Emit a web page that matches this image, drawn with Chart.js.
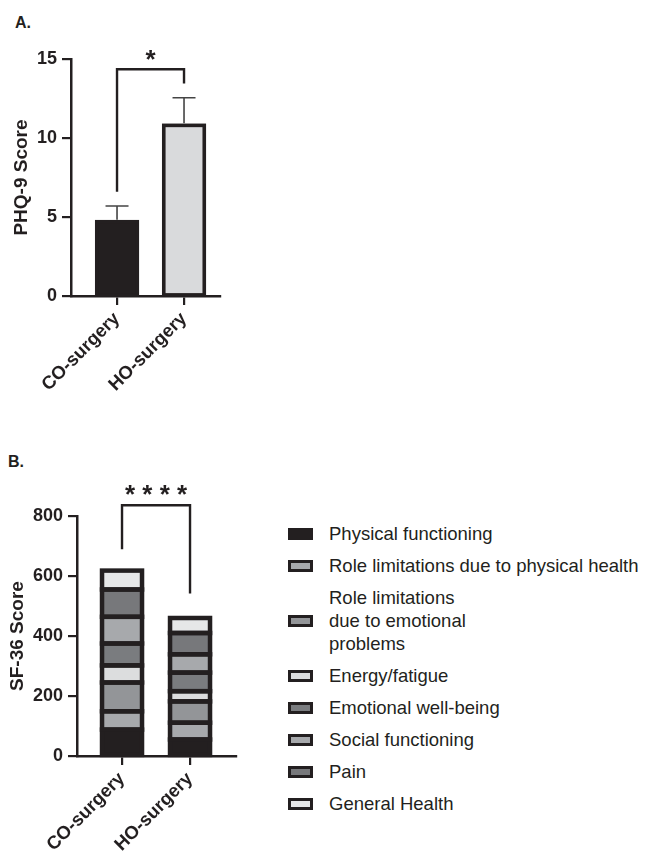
<!DOCTYPE html>
<html>
<head>
<meta charset="utf-8">
<script src="https://cdn.jsdelivr.net/npm/chart.js@4.4.1/dist/chart.umd.min.js"></script>
<style>
  html, body { margin: 0; padding: 0; background: #ffffff; }
  body { width: 651px; height: 851px; position: relative; overflow: hidden; font-family: "Liberation Sans", Arial, sans-serif; color: #231f20; }
  .panel-label { position: absolute; font-weight: bold; font-size: 16px; line-height: 1; }
  #wrapA { position: absolute; left: 0; top: 0; width: 240px; height: 420px; }
  #wrapB { position: absolute; left: 0; top: 440px; width: 250px; height: 411px; }
  #legendB { position: absolute; left: 288px; top: 522px; }
  .lg-row { display: flex; align-items: center; margin-bottom: 9px; }
  .lg-box { width: 25px; height: 12px; box-sizing: border-box; border: 3px solid #231f20; margin-right: 16px; flex: none; }
  .lg-text { font-size: 18.5px; line-height: 23px; white-space: pre-line; color: #231f20; }
</style>
</head>
<body>
<div class="panel-label" style="left:15px; top:15px;">A.</div>
<div class="panel-label" style="left:8px; top:454px;">B.</div>
<div id="wrapA"><canvas id="chartA" width="240" height="420"></canvas></div>
<div id="wrapB"><canvas id="chartB" width="250" height="411"></canvas></div>
<div id="legendB"></div>
<script>
// ---------- data ----------
const groups = ['CO-surgery', 'HO-surgery'];

// Panel A: PHQ-9
const phqMeans = [4.7, 10.8];
const phqErrors = [1.0, 1.75];
const phqColors = ['#231f20', '#d9dadc'];
const phqTicks = [0, 5, 10, 15];
const phqBracket = { from: 6.6, top: 14.35, to: 13.45, label: '*', labelAt: 15.4 };

// Panel B: SF-36 components (stacked)
const sfComponents = [
  'Physical functioning',
  'Role limitations due to physical health',
  'Role limitations\ndue to emotional\nproblems',
  'Energy/fatigue',
  'Emotional well-being',
  'Social functioning',
  'Pain',
  'General Health'
];
const sfCO = [88, 61, 96, 57, 73, 89, 91, 63];
const sfHO = [55, 56, 71, 34, 62, 61, 71, 50];
const sfColors = ['#231f20', '#a7a9ac', '#939598', '#dcddde', '#7a7c7f', '#a7a9ac', '#77787b', '#e6e7e8'];
const sfTicks = [0, 200, 400, 600, 800];
const sfBracket = { from: 689, top: 836, to: 542, label: '* * * *', labelAt: 892 };

// ---------- shared ----------
const INK = '#231f20';
const FONT = '"Liberation Sans", Arial, sans-serif';
const STAR_SIZE = 26;

function bracketPlugin(br) {
  return {
    id: 'bracket',
    afterDraw(chart) {
      const ctx = chart.ctx, x = chart.scales.x, y = chart.scales.y;
      const x0 = x.getPixelForValue(0), x1 = x.getPixelForValue(1);
      ctx.save();
      ctx.strokeStyle = INK;
      ctx.lineWidth = 2.4;
      ctx.lineCap = 'butt';
      ctx.lineJoin = 'miter';
      ctx.beginPath();
      ctx.moveTo(x0, y.getPixelForValue(br.from));
      ctx.lineTo(x0, y.getPixelForValue(br.top));
      ctx.lineTo(x1, y.getPixelForValue(br.top));
      ctx.lineTo(x1, y.getPixelForValue(br.to));
      ctx.stroke();
      ctx.fillStyle = INK;
      ctx.font = 'bold ' + STAR_SIZE + 'px ' + FONT;
      ctx.textAlign = 'center';
      ctx.textBaseline = 'alphabetic';
      ctx.fillText(br.label, (x0 + x1) / 2, y.getPixelForValue(br.labelAt) + 0.57 * STAR_SIZE);
      ctx.restore();
    }
  };
}

const errorBarPlugin = {
  id: 'errbars',
  afterDatasetsDraw(chart) {
    const ctx = chart.ctx, x = chart.scales.x, y = chart.scales.y;
    ctx.save();
    ctx.strokeStyle = '#444444';
    ctx.lineWidth = 1.6;
    phqMeans.forEach((m, i) => {
      const px = x.getPixelForValue(i);
      const yTop = y.getPixelForValue(m + phqErrors[i]);
      const yBar = y.getPixelForValue(m);
      ctx.beginPath();
      ctx.moveTo(px, yBar - 2);
      ctx.lineTo(px, yTop);
      ctx.moveTo(px - 11.5, yTop);
      ctx.lineTo(px + 11.5, yTop);
      ctx.stroke();
    });
    ctx.restore();
  }
};

// outlines each bar / stacked segment, centred on its edges (uses the bar elements laid out by Chart.js)
function outlinePlugin(lineWidth) {
  return {
    id: 'outline',
    afterDatasetsDraw(chart) {
      const ctx = chart.ctx;
      ctx.save();
      ctx.strokeStyle = INK;
      ctx.lineWidth = lineWidth;
      ctx.lineJoin = 'miter';
      chart.data.datasets.forEach((ds, di) => {
        chart.getDatasetMeta(di).data.forEach(el => {
          const p = el.getProps(['x', 'y', 'base', 'width'], true);
          ctx.strokeRect(p.x - p.width / 2, p.y, p.width, p.base - p.y);
        });
      });
      ctx.restore();
    }
  };
}

function xScale(min, max, height) {
  return {
    type: 'linear',
    min: min, max: max,
    offset: false,
    stacked: true,
    afterBuildTicks: (s) => { s.ticks = groups.map((_, i) => ({ value: i })); },
    afterFit: (s) => { s.height = height; },
    grid: { display: true, offset: false, drawOnChartArea: false, drawTicks: true, tickLength: 9, color: INK, lineWidth: 2.2 },
    border: { display: true, color: INK, width: 2.5 },
    ticks: {
      autoSkip: false,
      minRotation: 45, maxRotation: 45,
      padding: 3,
      color: INK,
      font: { family: FONT, size: 18.5, weight: 'bold' },
      callback: (v) => groups[v]
    }
  };
}

function yScale(max, step, ticks, width, title, titlePad) {
  return {
    min: 0, max: max,
    stacked: true,
    afterBuildTicks: (s) => { s.ticks = ticks.map(v => ({ value: v })); },
    afterFit: (s) => { s.width = width; },
    grid: { display: true, drawOnChartArea: false, drawTicks: true, tickLength: 9, color: INK, lineWidth: 2.2 },
    border: { display: true, color: INK, width: 2.5 },
    ticks: { padding: 5, color: INK, font: { family: FONT, size: 18, weight: 'bold' }, stepSize: step },
    title: { display: true, text: title, color: INK, font: { family: FONT, size: 19, weight: 'bold' }, padding: { top: titlePad, bottom: 0 } }
  };
}

// ---------- Panel A ----------
new Chart(document.getElementById('chartA'), {
  type: 'bar',
  data: {
    datasets: [{
      data: phqMeans.map((v, i) => ({ x: i, y: v })),
      backgroundColor: phqColors,
      borderWidth: 0,
      inflateAmount: 0,
      barThickness: 40.5
    }]
  },
  options: {
    responsive: false,
    animation: false,
    layout: { padding: { top: 59, right: 20, bottom: 0, left: 0 } },
    plugins: { legend: { display: false }, tooltip: { enabled: false } },
    scales: {
      x: xScale(-0.687, 1.537, 124),
      y: yScale(15, 5, phqTicks, 71, 'PHQ-9 Score', 10)
    }
  },
  plugins: [outlinePlugin(3.6), errorBarPlugin, bracketPlugin(phqBracket)]
});

// ---------- Panel B ----------
new Chart(document.getElementById('chartB'), {
  type: 'bar',
  data: {
    datasets: sfComponents.map((name, k) => ({
      label: name,
      data: [sfCO[k], sfHO[k]].map((v, i) => ({ x: i, y: v })),
      backgroundColor: sfColors[k],
      borderWidth: 0,
      inflateAmount: 0,
      barThickness: 40,
      stack: 'sf'
    }))
  },
  options: {
    responsive: false,
    animation: false,
    layout: { padding: { top: 76, right: 14, bottom: 0, left: 0 } },
    plugins: { legend: { display: false }, tooltip: { enabled: false } },
    scales: {
      x: xScale(-0.662, 1.676, 95),
      y: yScale(800, 200, sfTicks, 77, 'SF-36 Score', 6)
    }
  },
  plugins: [outlinePlugin(4.5), bracketPlugin(sfBracket)]
});

// ---------- Legend B (HTML, built from the data arrays) ----------
const legendEl = document.getElementById('legendB');
sfComponents.forEach((name, k) => {
  const row = document.createElement('div');
  row.className = 'lg-row';
  const box = document.createElement('div');
  box.className = 'lg-box';
  box.style.background = sfColors[k];
  const txt = document.createElement('div');
  txt.className = 'lg-text';
  txt.textContent = name;
  row.appendChild(box);
  row.appendChild(txt);
  legendEl.appendChild(row);
});
</script>
</body>
</html>
